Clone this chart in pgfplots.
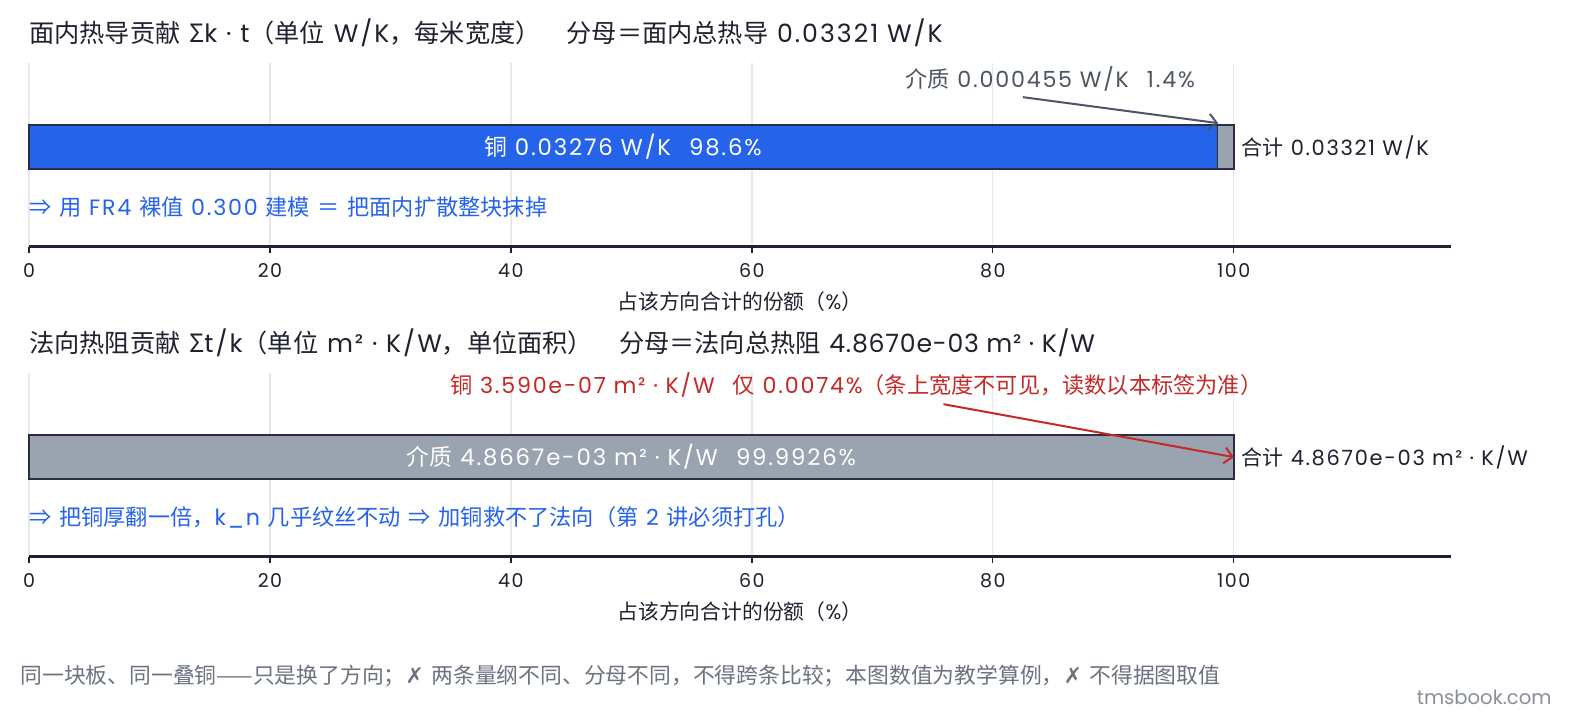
\documentclass[border=0pt]{standalone}
\usepackage{fontspec}
\setmainfont[LetterSpace=8]{Poppins}
\newfontfamily\latinfont[LetterSpace=8]{Poppins}
\newfontfamily\tightfont[LetterSpace=3]{Poppins}
\newfontfamily\plainfont{Poppins}
\newfontfamily\cjkfont{Noto Sans CJK SC}
\newfontfamily\symfont{DejaVu Sans}
\usepackage{pgfplots}
\pgfplotsset{compat=1.18}
\usetikzlibrary{arrows.meta}

% CJK characters in Noto Sans CJK, Latin in Poppins
\XeTeXinterchartokenstate=1
\newXeTeXintercharclass\cjkcls
\newcount\cc
\cc="2E80 \loop\XeTeXcharclass\cc=\cjkcls \ifnum\cc<"9FFF \advance\cc 1 \repeat
\cc="FF00 \loop\XeTeXcharclass\cc=\cjkcls \ifnum\cc<"FFEF \advance\cc 1 \repeat
\XeTeXcharclass"21D2=\cjkcls
\XeTeXcharclass"03A3=\cjkcls
\XeTeXcharclass"2014=\cjkcls
\XeTeXinterchartoks 0 \cjkcls = {\cjkfont}
\XeTeXinterchartoks 4095 \cjkcls = {\cjkfont}
\XeTeXinterchartoks \cjkcls 0 = {\latinfont}
\XeTeXinterchartoks \cjkcls 4095 = {\latinfont}

\definecolor{cu}{HTML}{2563EB}
\definecolor{die}{HTML}{9AA4B1}
\definecolor{edge}{HTML}{2B2D42}
\definecolor{note}{HTML}{4B5563}
\definecolor{redn}{HTML}{C62828}
\definecolor{foot}{HTML}{6B7280}
\definecolor{ink}{HTML}{1F2130}

\newcommand{\fs}[1]{\fontsize{#1}{#1}\selectfont}

\pgfplotsset{panel/.style={
    width=710.85pt, height=91.75pt, scale only axis,
    xmin=0, xmax=118, ymin=-99.7, ymax=84,
    axis x line*=bottom, axis y line=none,
    xtick={0,20,...,100},
    xmajorgrids, grid style={color=black!9, line width=0.6pt},
    tick align=outside, major tick length=3pt,
    xtick style={color=ink, line width=0.6pt},
    x axis line style={color=ink, line width=1.25pt, -},
    ticklabel style={font=\fs{9.5}, color=ink, yshift=-1.8pt},
    /pgf/number format/assume math mode=true,
    xlabel={占该方向合计的份额（\%）},
    xlabel style={font=\fs{10.4}, color=ink},
    xbar stacked, bar width=22pt,
    clip=false,
}}

\begin{document}%
\begin{tikzpicture}
\fill[white] (0,0) rectangle (787.5pt,-360pt);

% in-plane conductance
\begin{axis}[panel, at={(14.5pt,-123.35pt)}, anchor=south west]
\addplot[fill=cu, draw=edge, line width=0.8pt] coordinates {(98.63,0)};
\addplot[fill=die, draw=edge, line width=0.8pt] coordinates {(1.37,0)};
\coordinate (a1) at (axis cs:0,114);
\coordinate (a2) at (axis cs:49.3,0);
\coordinate (a3) at (axis cs:96.8,68);
\coordinate (a4) at (axis cs:82.5,50);
\coordinate (a5) at (axis cs:98.7,24);
\coordinate (a6) at (axis cs:100.6,0);
\coordinate (a7) at (axis cs:0,-60);
\end{axis}

% through-plane resistance
\begin{axis}[panel, at={(14.5pt,-278.35pt)}, anchor=south west]
\addplot[fill=die, draw=edge, line width=0.8pt] coordinates {(99.9926,0)};
\addplot[fill=cu, draw=cu, line width=0.8pt] coordinates {(0.0074,0)};
\coordinate (b1) at (axis cs:0,114);
\coordinate (b2) at (axis cs:50,0);
\coordinate (b3) at (axis cs:102.4,72);
\coordinate (b4) at (axis cs:75.9,53);
\coordinate (b5) at (axis cs:100,0);
\coordinate (b6) at (axis cs:100.6,0);
\coordinate (b7) at (axis cs:0,-60);
\end{axis}

\node[anchor=west, inner sep=0pt, font=\fs{12.6}, text=ink] at (a1)
  {面内热导贡献 Σk · t（单位 W/K，每米宽度）\hspace{13pt}分母＝面内总热导 0.03321 W/K};
\node[font=\fs{11.4}, text=white] at (a2) {铜 0.03276 W/K\hspace{9pt}98.6\%};
\node[anchor=east, inner sep=0pt, font=\fs{11.1}, text=note] at (a3)
  {介质 0.000455 W/K\hspace{9pt}1.4\%};
\draw[note, line width=1pt, -{Straight Barb[length=4pt]}] (a4) -- (a5);
\node[anchor=west, inner sep=0pt, font=\fs{10.5}, text=ink] at (a6) {合计 0.03321 W/K};
\node[anchor=west, inner sep=0pt, font=\fs{11.1}, text=cu] at (a7)
  {⇒ 用 FR4 裸值 0.300 建模 ＝ 把面内扩散整块抹掉};

\node[anchor=west, inner sep=0pt, font=\fs{12.6}, text=ink] at (b1)
  {法向热阻贡献 Σt/k（单位 m² · K/W，单位面积）\hspace{13pt}分母＝法向总热阻 {\tightfont 4.8670e-03 m² · K/W}};
\node[font=\fs{11.4}, text=white] at (b2) {介质 4.8667e-03 m² · K/W\hspace{9pt}99.9926\%};
\node[anchor=east, inner sep=0pt, font=\fs{11.1}, text=redn] at (b3)
  {铜 3.590e-07 m² · K/W\hspace{9pt}仅 0.0074\%（条上宽度不可见，读数以本标签为准）};
\draw[redn, line width=1pt, -{Straight Barb[length=4pt]}] (b4) -- (b5);
\node[anchor=west, inner sep=0pt, font=\fs{10.5}, text=ink] at (b6) {合计 4.8670e-03 m² · K/W};
\node[anchor=west, inner sep=0pt, font=\fs{11.1}, text=cu] at (b7)
  {⇒ 把铜厚翻一倍，k\_n 几乎纹丝不动 ⇒ 加铜救不了法向（第 2 讲必须打孔）};

\node[anchor=west, inner sep=0pt, font=\fs{10.9}, text=foot] at (10pt,-338pt)
  {同一块板、同一叠铜——只是换了方向；{\symfont ✗} 两条量纲不同、分母不同，不得跨条比较；本图数值为教学算例，{\symfont ✗} 不得据图取值};
\node[anchor=east, inner sep=0pt, font=\fs{9.8}\plainfont, text=foot!80] at (776pt,-348.5pt) {tmsbook.com};

\pgfresetboundingbox
\path[use as bounding box] (0,0) rectangle (787.5pt,-360pt);
\end{tikzpicture}%
\end{document}
